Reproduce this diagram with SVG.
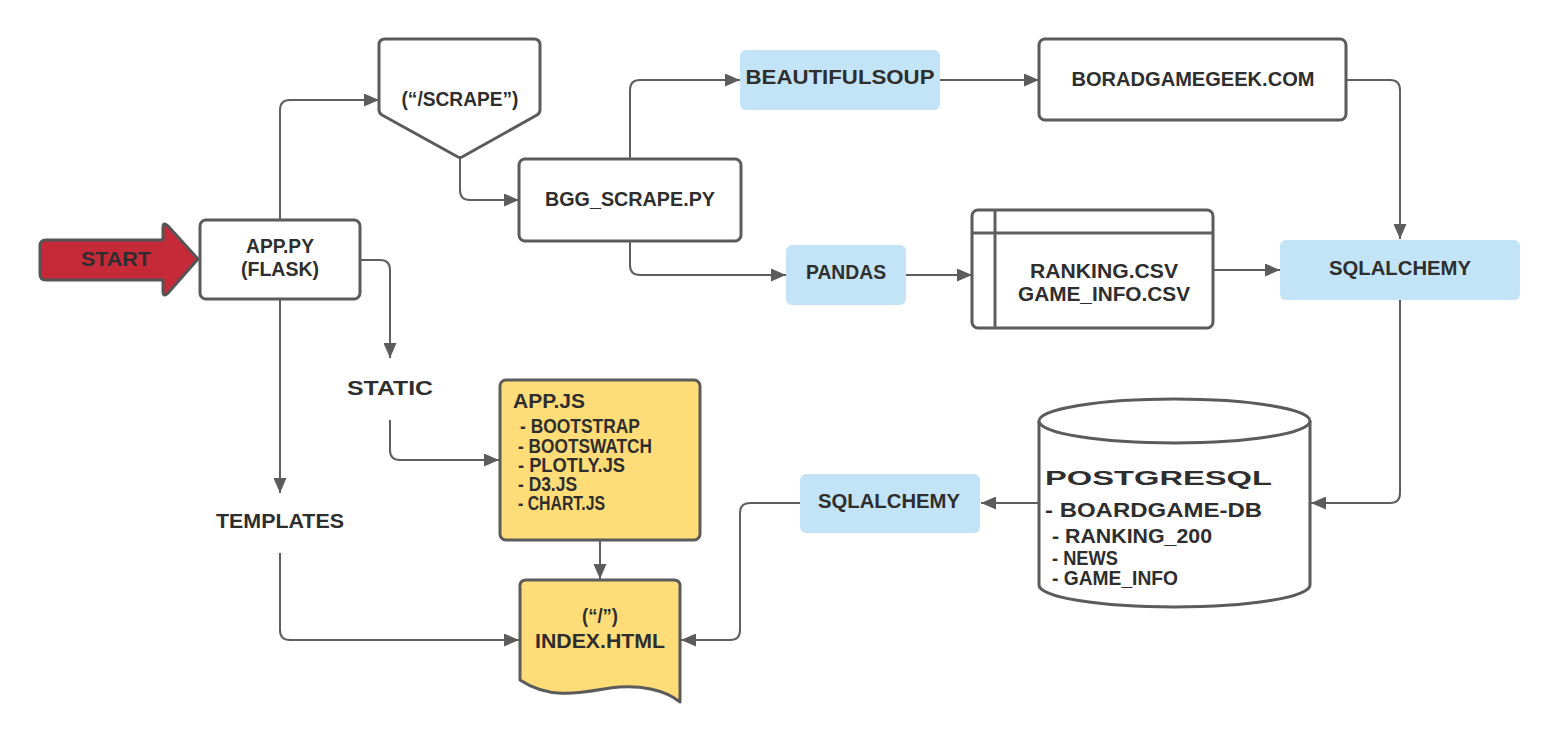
<svg xmlns="http://www.w3.org/2000/svg" width="1560" height="740" viewBox="0 0 1560 740">
<defs>
<marker id="arr" markerUnits="userSpaceOnUse" markerWidth="15" markerHeight="13" refX="15" refY="6.5" orient="auto">
<path d="M0,0 L15,6.5 L0,13 Z" fill="#5c5c5c"/>
</marker>
</defs>
<style>
.box{fill:#ffffff;stroke:#5b5b5b;stroke-width:3}
.blue{fill:#c3e4f6;stroke:none}
.yel{fill:#fedd78;stroke:#5b5b5b;stroke-width:3}
.con{fill:none;stroke:#5e5e5e;stroke-width:2;marker-end:url(#arr)}
.line{fill:none;stroke:#5e5e5e;stroke-width:3}
text{font-family:"Liberation Sans","DejaVu Sans",sans-serif;fill:#2e2e2e;font-size:20px;font-weight:bold}
.c{text-anchor:middle}
</style>
<rect width="1560" height="740" fill="#ffffff"/>

<g id="connectors">
<path class="con" d="M280,220 L280,110 Q280,100 290,100 L379,100"/>
<path class="con" d="M460,158 L460,190 Q460,200 470,200 L519,200"/>
<path class="con" d="M630,159 L630,90 Q630,80 640,80 L740,80"/>
<path class="con" d="M630,241 L630,265 Q630,275 640,275 L786,275"/>
<path class="con" d="M906,275 L972,275"/>
<path class="con" d="M940,80 L1039,80"/>
<path class="con" d="M1346,80 L1390,80 Q1400,80 1400,90 L1400,239"/>
<path class="con" d="M1214,270 L1280,270"/>
<path class="con" d="M1400,300 L1400,493 Q1400,503 1390,503 L1311,503"/>
<path class="con" d="M1038,503 L981,503"/>
<path class="con" d="M800,503 L750,503 Q740,503 740,513 L740,630 Q740,640 730,640 L681,640"/>
<path class="con" d="M280,300 L280,493"/>
<path class="con" d="M280,553 L280,630 Q280,640 290,640 L519,640"/>
<path class="con" d="M361,260 L380,260 Q390,260 390,270 L390,358"/>
<path class="con" d="M390,420 L390,450 Q390,460 400,460 L499,460"/>
<path class="con" d="M600,541 L600,579"/>
</g>

<g id="start">
<path d="M46,240 L163,240 L163,228 Q163,221 168,226 L198,259 L168,293 Q163,298 163,291 L163,280 L46,280 Q40,280 40,274 L40,246 Q40,240 46,240 Z" fill="#c62a38" stroke="#555555" stroke-width="3" stroke-linejoin="round"/>
<text class="c" x="116" y="266" textLength="70" lengthAdjust="spacingAndGlyphs">START</text>
</g>

<g id="app-py">
<rect class="box" x="200" y="220" width="160" height="79" rx="6"/>
<text class="c" x="280" y="253" textLength="68" lengthAdjust="spacingAndGlyphs">APP.PY</text>
<text class="c" x="280" y="276" textLength="78" lengthAdjust="spacingAndGlyphs">(FLASK)</text>
</g>

<g id="scrape-route">
<path class="box" d="M385,39 L534,39 Q540,39 540,45 L540,110 Q540,113 537,115 L462,157 Q460,158 458,157 L382,115 Q379,113 379,110 L379,45 Q379,39 385,39 Z" stroke-linejoin="round"/>
<text class="c" x="460" y="106" textLength="117" lengthAdjust="spacingAndGlyphs">(“/SCRAPE”)</text>
</g>

<g id="bgg-scrape">
<rect class="box" x="519" y="159" width="222" height="82" rx="6"/>
<text class="c" x="630" y="206" textLength="170" lengthAdjust="spacingAndGlyphs">BGG_SCRAPE.PY</text>
</g>

<g id="beautifulsoup">
<rect class="blue" x="740" y="50" width="200" height="60" rx="6"/>
<text class="c" x="840" y="84" textLength="189" lengthAdjust="spacingAndGlyphs">BEAUTIFULSOUP</text>
</g>

<g id="boardgamegeek">
<rect class="box" x="1039" y="39" width="307" height="81" rx="6"/>
<text class="c" x="1193" y="86" textLength="243" lengthAdjust="spacingAndGlyphs">BORADGAMEGEEK.COM</text>
</g>

<g id="pandas">
<rect class="blue" x="786" y="245" width="120" height="60" rx="6"/>
<text class="c" x="846" y="279" textLength="80" lengthAdjust="spacingAndGlyphs">PANDAS</text>
</g>

<g id="csv-files">
<rect class="box" x="972" y="210" width="241" height="118" rx="6"/>
<line class="line" x1="995" y1="210" x2="995" y2="328"/>
<line class="line" x1="972" y1="233" x2="1213" y2="233"/>
<text class="c" x="1104" y="278" textLength="148" lengthAdjust="spacingAndGlyphs">RANKING.CSV</text>
<text class="c" x="1104" y="301" textLength="172" lengthAdjust="spacingAndGlyphs">GAME_INFO.CSV</text>
</g>

<g id="sqlalchemy-top">
<rect class="blue" x="1280" y="240" width="240" height="60" rx="6"/>
<text class="c" x="1400" y="275" textLength="142" lengthAdjust="spacingAndGlyphs">SQLALCHEMY</text>
</g>

<g id="postgresql">
<path class="box" d="M1039,421 L1039,585 A135.5,22 0 0 0 1310,585 L1310,421 A135.5,22 0 0 0 1039,421 Z"/>
<path class="box" d="M1039,421 A135.5,22 0 0 0 1310,421" fill="none"/>
<text x="1045" y="485" font-size="31" textLength="227" lengthAdjust="spacingAndGlyphs">POSTGRESQL</text>
<text x="1045" y="517" font-size="26" textLength="217" lengthAdjust="spacingAndGlyphs">- BOARDGAME-DB</text>
<text x="1052" y="543" font-size="19" textLength="160" lengthAdjust="spacingAndGlyphs">- RANKING_200</text>
<text x="1052" y="565" font-size="19" textLength="66" lengthAdjust="spacingAndGlyphs">- NEWS</text>
<text x="1052" y="585" font-size="19" textLength="126" lengthAdjust="spacingAndGlyphs">- GAME_INFO</text>
</g>

<g id="sqlalchemy-bottom">
<rect class="blue" x="800" y="474" width="180" height="59" rx="6"/>
<text class="c" x="889" y="508" textLength="142" lengthAdjust="spacingAndGlyphs">SQLALCHEMY</text>
</g>

<g id="static">
<text class="c" x="390" y="395" textLength="86" lengthAdjust="spacingAndGlyphs">STATIC</text>
</g>

<g id="templates">
<text class="c" x="280" y="528" textLength="128" lengthAdjust="spacingAndGlyphs">TEMPLATES</text>
</g>

<g id="app-js">
<rect class="yel" x="500" y="380" width="200" height="160" rx="6"/>
<text x="513" y="408" textLength="72" lengthAdjust="spacingAndGlyphs">APP.JS</text>
<text x="520" y="433" font-size="15" textLength="120" lengthAdjust="spacingAndGlyphs">- BOOTSTRAP</text>
<text x="518" y="453" font-size="15" textLength="134" lengthAdjust="spacingAndGlyphs">- BOOTSWATCH</text>
<text x="518" y="472" font-size="15" textLength="107" lengthAdjust="spacingAndGlyphs">- PLOTLY.JS</text>
<text x="518" y="491" font-size="15" textLength="59" lengthAdjust="spacingAndGlyphs">- D3.JS</text>
<text x="518" y="510" font-size="15" textLength="87" lengthAdjust="spacingAndGlyphs">- CHART.JS</text>
</g>

<g id="index-html">
<path class="yel" d="M526,580 L674,580 Q680,580 680,586 L680,702 C665,690 640,684 610,688 C580,693 550,700 520,680 L520,586 Q520,580 526,580 Z" stroke-linejoin="round"/>
<text class="c" x="600" y="623" textLength="36" lengthAdjust="spacingAndGlyphs">(“/”)</text>
<text class="c" x="600" y="648" font-size="22" textLength="130" lengthAdjust="spacingAndGlyphs">INDEX.HTML</text>
</g>
</svg>
